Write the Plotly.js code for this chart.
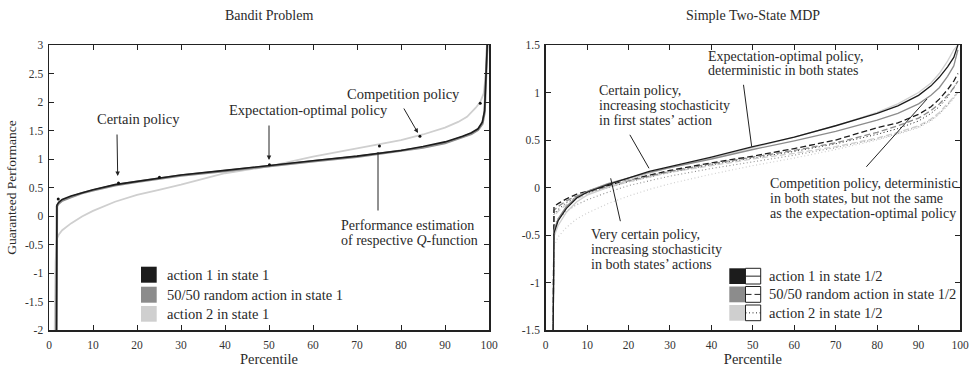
<!DOCTYPE html>
<html>
<head>
<meta charset="utf-8">
<script src="https://cdn.plot.ly/plotly-3.0.1.min.js"></script>
<style>html,body{margin:0;padding:0;background:#fff;}#chart{width:973px;height:368px;}</style>
</head>
<body>
<div id="chart"></div>
<script>
// ---------- DATA ----------
// Left panel: Bandit Problem
const banditA1X = [1.7, 1.8, 2.2, 3, 5, 7.5, 10, 15, 20, 25, 30, 40, 50, 60, 70, 80, 85, 90, 94, 96, 97.5, 98.5, 99.0, 99.3, 99.6];
const banditA1Y = [-2, 0.19, 0.24, 0.29, 0.35, 0.41, 0.46, 0.55, 0.61, 0.67, 0.72, 0.80, 0.89, 0.97, 1.05, 1.15, 1.22, 1.30, 1.40, 1.46, 1.53, 1.65, 1.85, 2.4, 3.0];
const banditMixX = [1.7, 1.8, 2.2, 3, 5, 7.5, 10, 15, 20, 25, 30, 40, 50, 60, 70, 80, 85, 90, 94, 96, 97.5, 98.5, 99.0, 99.3, 99.6];
const banditMixY = [-2, 0.17, 0.22, 0.27, 0.33, 0.40, 0.45, 0.54, 0.60, 0.66, 0.71, 0.79, 0.88, 0.96, 1.04, 1.14, 1.20, 1.28, 1.38, 1.44, 1.51, 1.62, 1.82, 2.35, 3.0];
const banditA2X = [1.3, 1.5, 1.8, 2.2, 3, 5, 7.5, 10, 15, 20, 25, 30, 40, 50, 60, 70, 75, 80, 85, 90, 93, 95, 97, 98, 98.8, 99.3, 99.7];
const banditA2Y = [-2, -0.8, -0.4, -0.33, -0.25, -0.13, -0.01, 0.09, 0.25, 0.37, 0.46, 0.55, 0.75, 0.87, 1.04, 1.18, 1.25, 1.33, 1.43, 1.55, 1.65, 1.74, 1.90, 2.0, 2.15, 2.5, 3.0];
const banditQX = [2.1, 15.8, 25.1, 50.1, 75.1, 84.3, 98.0];
const banditQY = [0.30, 0.58, 0.68, 0.90, 1.23, 1.40, 1.98];

// Right panel: Simple Two-State MDP (colour = action in state 1, line style = action in state 2)
const mdpX = [1.8, 2, 3, 5, 7.5, 10, 15, 20, 25, 30, 40, 50, 60, 70, 80, 85, 90, 93, 95, 97, 98.5, 99.5];
const mdpA1A1 = [-1.5, -0.48, -0.35, -0.22, -0.11, -0.05, 0.03, 0.10, 0.17, 0.22, 0.32, 0.43, 0.53, 0.65, 0.78, 0.86, 0.97, 1.07, 1.16, 1.27, 1.37, 1.50];
const mdpMxA1 = [-1.5, -0.45, -0.33, -0.20, -0.10, -0.04, 0.04, 0.10, 0.16, 0.21, 0.30, 0.40, 0.49, 0.59, 0.71, 0.78, 0.88, 0.97, 1.05, 1.17, 1.28, 1.45];
const mdpA2A1 = [-1.5, -0.52, -0.40, -0.26, -0.15, -0.08, 0.00, 0.08, 0.15, 0.21, 0.31, 0.42, 0.53, 0.65, 0.79, 0.88, 1.00, 1.10, 1.20, 1.33, 1.45, 1.50];
const mdpA1Mx = [-1.5, -0.20, -0.17, -0.12, -0.07, -0.04, 0.02, 0.08, 0.13, 0.18, 0.26, 0.33, 0.41, 0.50, 0.63, 0.68, 0.77, 0.85, 0.93, 1.03, 1.12, 1.20];
const mdpMxMx = [-1.5, -0.24, -0.20, -0.14, -0.09, -0.05, 0.01, 0.07, 0.12, 0.17, 0.25, 0.32, 0.39, 0.47, 0.58, 0.65, 0.73, 0.81, 0.88, 0.97, 1.05, 1.12];
const mdpA2Mx = [-1.5, -0.30, -0.25, -0.18, -0.12, -0.07, 0.00, 0.06, 0.11, 0.16, 0.23, 0.30, 0.36, 0.43, 0.52, 0.58, 0.65, 0.72, 0.79, 0.88, 0.95, 1.00];
const mdpA1A2 = [-1.5, -0.28, -0.23, -0.16, -0.10, -0.06, 0.00, 0.06, 0.11, 0.16, 0.24, 0.31, 0.38, 0.46, 0.56, 0.62, 0.70, 0.78, 0.85, 0.95, 1.05, 1.12];
const mdpMxA2 = [-1.5, -0.40, -0.33, -0.25, -0.18, -0.13, -0.05, 0.02, 0.07, 0.12, 0.20, 0.27, 0.34, 0.42, 0.51, 0.57, 0.64, 0.71, 0.78, 0.87, 0.95, 1.02];
const mdpA2A2 = [-1.5, -0.62, -0.52, -0.42, -0.33, -0.27, -0.17, -0.09, -0.02, 0.04, 0.14, 0.23, 0.31, 0.40, 0.50, 0.56, 0.63, 0.70, 0.77, 0.86, 0.94, 1.00];

const leftYTicks = [-2, -1.5, -1, -0.5, 0, 0.5, 1, 1.5, 2, 2.5, 3];
const leftYText = ['-2', '-1.5', '-1', '-0.5', '0', '0.5', '1', '1.5', '2', '2.5', '3'];
const rightYTicks = [-1.5, -1, -0.5, 0, 0.5, 1, 1.5];
const rightYText = ['-1.5', '-1', '-0.5', '0', '0.5', '1', '1.5'];
const xTicks = [0, 10, 20, 30, 40, 50, 60, 70, 80, 90, 100];

const legendLeft = ['action 1 in state 1', '50/50 random action in state 1', 'action 2 in state 1'];
const legendRight = ['action 1 in state 1/2', '50/50 random action in state 1/2', 'action 2 in state 1/2'];

// ---------- STYLE ----------
const FONT = "'Liberation Serif', 'Times New Roman', serif";
const C1 = '#1c1c1c', C2 = '#8c8c8c', C3 = '#cfcfcf';
const DASH = '6px,3px', DOT = '1px,2.5px';
const W = 973, H = 368, ML = 49, MR = 13, MT = 45, MB = 38;
const PW = W - ML - MR, PH = H - MT - MB;
const P = x => (x - ML) / PW;      // pixel x -> paper
const Q = y => (H - MB - y) / PH;  // pixel y -> paper

function line(x, y, color, dash, width, xa, ya) {
  return {x: x, y: y, type: 'scatter', mode: 'lines', xaxis: xa, yaxis: ya,
          line: {color: color, width: width, dash: dash || 'solid'}, hoverinfo: 'skip', showlegend: false};
}

const traces = [
  line(banditA2X, banditA2Y, C3, 'solid', 1.8, 'x', 'y'),
  line(banditMixX, banditMixY, C2, 'solid', 2.4, 'x', 'y'),
  line(banditA1X, banditA1Y, C1, 'solid', 1.6, 'x', 'y'),
  {x: banditQX, y: banditQY, type: 'scatter', mode: 'markers', xaxis: 'x', yaxis: 'y',
   marker: {color: '#111', size: 3}, hoverinfo: 'skip', showlegend: false},

  line(mdpX, mdpA2A2, C3, DOT, 1.2, 'x2', 'y2'),
  line(mdpX, mdpMxA2, C2, DOT, 1.1, 'x2', 'y2'),
  line(mdpX, mdpA1A2, C1, DOT, 1.0, 'x2', 'y2'),
  line(mdpX, mdpA2Mx, C3, DASH, 1.3, 'x2', 'y2'),
  line(mdpX, mdpMxMx, C2, DASH, 1.3, 'x2', 'y2'),
  line(mdpX, mdpA1Mx, C1, DASH, 1.3, 'x2', 'y2'),
  line(mdpX, mdpA2A1, C3, 'solid', 1.3, 'x2', 'y2'),
  line(mdpX, mdpMxA1, C2, 'solid', 1.3, 'x2', 'y2'),
  line(mdpX, mdpA1A1, C1, 'solid', 1.3, 'x2', 'y2')
];

const axisBase = {
  showline: true, mirror: 'ticks', linecolor: '#222', linewidth: 1.5,
  ticks: 'inside', ticklen: 5, tickcolor: '#222', tickwidth: 1,
  showgrid: false, zeroline: false, fixedrange: true,
  tickfont: {family: FONT, size: 11.5, color: '#333'}
};

const annotations = [];
function txt(s, xpx, ypx, anchor, size) {
  annotations.push({text: s, xref: 'paper', yref: 'paper', x: P(xpx), y: Q(ypx),
    xanchor: anchor || 'left', yanchor: 'middle', showarrow: false,
    font: {family: FONT, size: size || 14, color: '#2a2a2a'}});
}
function lines(arr, xpx, ypx, step, anchor) {
  arr.forEach((s, i) => txt(s, xpx, ypx + i * step, anchor));
}
function arrow(tx, ty, hx, hy, head) {
  annotations.push({text: '', xref: 'paper', yref: 'paper', x: P(hx), y: Q(hy),
    axref: 'pixel', ayref: 'pixel', ax: tx - hx, ay: ty - hy, showarrow: true,
    arrowhead: head ? 2 : 0, arrowsize: 0.9, arrowwidth: 1, arrowcolor: '#222', standoff: 0});
}

// titles
txt('Bandit Problem', 269, 15.5, 'center', 14);
txt('Simple Two-State MDP', 752.7, 16, 'center', 14);

// left annotations
txt('Certain policy', 138, 119, 'center', 14.5);
arrow(117, 133, 117.7, 176, true);
txt('Expectation-optimal policy', 308, 110, 'center', 14.5);
arrow(269, 124, 269, 160, true);
txt('Competition policy', 403, 94.3, 'center', 14.5);
arrow(403, 107, 418, 133, true);
lines(['Performance estimation', 'of respective <i>Q</i>-function'], 339, 225, 15);
arrow(378, 212, 378, 152, false);

// right annotations
lines(['Certain policy,', 'increasing stochasticity', 'in first states’ action'], 596.7, 90.7, 15);
arrow(629, 133.3, 649, 168.3, false);
lines(['Expectation-optimal policy,', 'deterministic in both states'], 705.7, 56, 14.7);
arrow(743.3, 83.3, 751.7, 146.7, false);
lines(['Competition policy, deterministic', 'in both states, but not the same', 'as the expectation-optimal policy'], 768.3, 183.3, 15);
arrow(865, 168.3, 927, 99, false);
lines(['Very certain policy,', 'increasing stochasticity', 'in both states’ actions'], 589, 234.3, 14.9);
arrow(620.7, 222.7, 610.7, 178.3, false);

// legends
const shapes = [];
const cols = [C1, C2, C3];
const lRows = [[266.7, 282.7], [286.7, 302.7], [306, 321.7]];
legendLeft.forEach((s, i) => {
  shapes.push({type: 'rect', xref: 'paper', yref: 'paper', x0: P(141), x1: P(156.7),
    y0: Q(lRows[i][1]), y1: Q(lRows[i][0]), fillcolor: cols[i], line: {width: 0}});
  txt(s, 165, (lRows[i][0] + lRows[i][1]) / 2, 'left', 14.5);
});
const rRows = [[268.3, 284], [286.5, 302.3], [305, 320.7]];
const styles = ['solid', DASH, DOT];
legendRight.forEach((s, i) => {
  const y0 = rRows[i][0], y1 = rRows[i][1], ym = (y0 + y1) / 2;
  shapes.push({type: 'rect', xref: 'paper', yref: 'paper', x0: P(729.3), x1: P(745),
    y0: Q(y1), y1: Q(y0), fillcolor: cols[i], line: {width: 0}});
  shapes.push({type: 'rect', xref: 'paper', yref: 'paper', x0: P(745.5), x1: P(760.7),
    y0: Q(y1), y1: Q(y0), fillcolor: '#fff', line: {width: 1, color: '#222'}});
  shapes.push({type: 'line', xref: 'paper', yref: 'paper', x0: P(745.5), x1: P(760.7),
    y0: Q(ym), y1: Q(ym), line: {width: 1, color: '#222', dash: styles[i]}});
  txt(s, 767.3, ym, 'left', 14.5);
});

const layout = {
  width: W, height: H,
  margin: {l: ML, r: MR, t: MT, b: MB, pad: 0},
  paper_bgcolor: '#fff', plot_bgcolor: '#fff',
  showlegend: false,
  font: {family: FONT, color: '#2a2a2a'},
  xaxis: Object.assign({}, axisBase, {domain: [0, 440 / PW], range: [0, 100], tickvals: xTicks,
    ticklabelstandoff: 4,
    title: {text: 'Percentile', font: {family: FONT, size: 14.5, color: '#2a2a2a'}, standoff: 0}}),
  yaxis: Object.assign({}, axisBase, {range: [-2, 3], tickvals: leftYTicks, ticktext: leftYText,
    ticklabelstandoff: 2,
    title: {text: 'Guaranteed Performance', font: {family: FONT, size: 13.5, color: '#2a2a2a'}, standoff: 5}}),
  xaxis2: Object.assign({}, axisBase, {anchor: 'y2', domain: [(545.7 - ML) / PW, 1], range: [0, 100], tickvals: xTicks,
    ticklabelstandoff: 4,
    title: {text: 'Percentile', font: {family: FONT, size: 14.5, color: '#2a2a2a'}, standoff: 0}}),
  yaxis2: Object.assign({}, axisBase, {anchor: 'x2', range: [-1.5, 1.5], tickvals: rightYTicks, ticktext: rightYText,
    ticklabelstandoff: 2}),
  annotations: annotations,
  shapes: shapes
};

Plotly.newPlot('chart', traces, layout, {staticPlot: true, displayModeBar: false});
</script>
</body>
</html>
